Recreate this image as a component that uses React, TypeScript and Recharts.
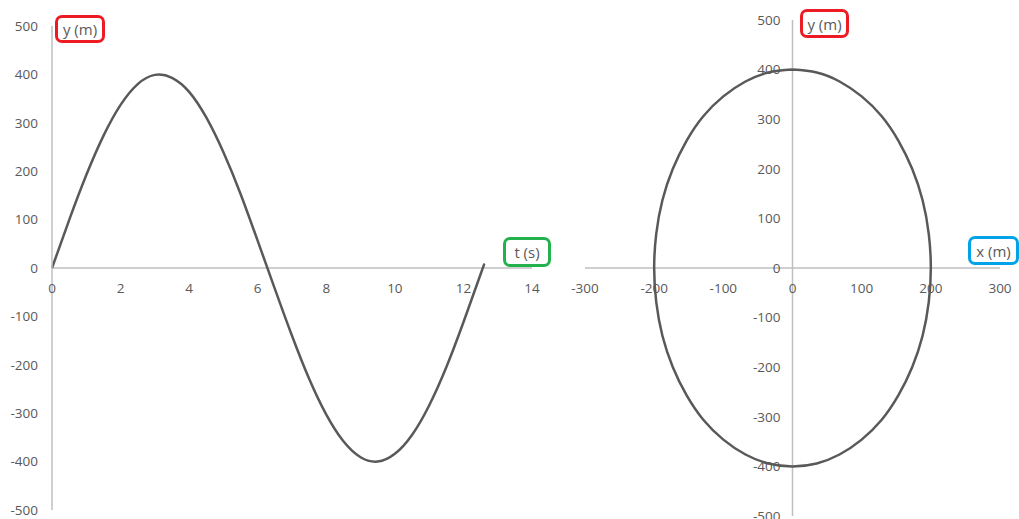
import { LineChart, Line, XAxis, YAxis, ReferenceLine, ReferenceDot } from 'recharts';

// y(t)
const tValues = [0, 0.5, 1, 1.5, 2, 2.5, 3, 3.5, 4, 4.5, 5, 5.5, 6, 6.5, 7, 7.5, 8, 8.5, 9, 9.5, 10, 10.5, 11, 11.5, 12, 12.5, 12.6];
const yOfT = [0, 99, 192, 273, 337, 380, 399, 393, 364, 311, 239, 153, 56, -43, -140, -229, -303, -358, -391, -400, -384, -345, -284, -205, -112, -13, 7];

// x/y path (closed loop, starting at the top)
const xPath = [
  0, 35, 68, 100, 129, 153, 173, 188, 197, 200, 197, 188, 173, 153, 129, 100, 68, 35,
  0, -35, -68, -100, -129, -153, -173, -188, -197, -200, -197, -188, -173, -153, -129, -100, -68, -35, 0,
];
const yPath = [
  400, 394, 376, 346, 306, 257, 200, 137, 69, 0, -69, -137, -200, -257, -306, -346, -376, -394,
  -400, -394, -376, -346, -306, -257, -200, -137, -69, 0, 69, 137, 200, 257, 306, 346, 376, 394, 400,
];

const tTicks = [0, 2, 4, 6, 8, 10, 12, 14];
const yTicks = [500, 400, 300, 200, 100, 0, -100, -200, -300, -400, -500];
const xTicks = [-300, -200, -100, 0, 100, 200, 300];

const sineData = tValues.map((t, i) => ({ t, y: yOfT[i] }));
const loopData = xPath.map((x, i) => ({ x, y: yPath[i] }));

const FONT = '"Open Sans", sans-serif';
const TEXT = '#595959';
const AXIS = '#bfbfbf';
const LINE = '#595959';

const tickLabel = (value: number, position: 'bottom' | 'left') => ({
  value,
  position,
  offset: position === 'bottom' ? 15 : 12,
  fill: TEXT,
  fontSize: 13.5,
  fontFamily: FONT,
});

function Tag({ text, color, left, top, width, height }: { text: string; color: string; left: number; top: number; width: number; height: number }) {
  return (
    <div
      style={{
        position: 'absolute',
        left,
        top,
        width,
        height,
        boxSizing: 'border-box',
        border: `3px solid ${color}`,
        borderRadius: 7,
        background: '#fff',
        color: TEXT,
        fontFamily: FONT,
        fontSize: 15,
        display: 'flex',
        alignItems: 'center',
        justifyContent: 'center',
      }}
    >
      {text}
    </div>
  );
}

export default function App() {
  return (
    <div style={{ position: 'absolute', left: 0, top: 0, width: 1019, height: 519, background: '#fff', overflow: 'hidden' }}>
      <div style={{ position: 'absolute', left: 0, top: 0 }}>
        <LineChart width={560} height={519} data={sineData} margin={{ top: 26, right: 28, bottom: 9, left: 0 }}>
          <XAxis dataKey="t" type="number" domain={[0, 14]} ticks={tTicks} hide />
          <YAxis
            type="number"
            domain={[-500, 500]}
            ticks={yTicks}
            width={52}
            axisLine={{ stroke: AXIS, strokeWidth: 1.5 }}
            tickLine={false}
            tickMargin={8}
            tick={{ fill: TEXT, fontSize: 13.5, fontFamily: FONT }}
          />
          <ReferenceLine y={0} stroke={AXIS} strokeWidth={1.5} />
          {tTicks.map((t) => (
            <ReferenceDot key={t} x={t} y={0} r={0} stroke="none" fill="none" label={tickLabel(t, 'bottom')} />
          ))}
          <Line dataKey="y" type="natural" stroke={LINE} strokeWidth={2.5} dot={false} isAnimationActive={false} />
        </LineChart>
      </div>
      <div style={{ position: 'absolute', left: 560, top: 0 }}>
        <LineChart width={459} height={519} data={loopData} margin={{ top: 20, right: 19, bottom: 3, left: 25 }}>
          <XAxis dataKey="x" type="number" domain={[-300, 300]} ticks={xTicks} hide />
          <YAxis type="number" domain={[-500, 500]} ticks={yTicks} hide />
          <ReferenceLine y={0} stroke={AXIS} strokeWidth={1.5} />
          <ReferenceLine x={0} stroke={AXIS} strokeWidth={1.5} />
          {xTicks.map((x) => (
            <ReferenceDot key={`x${x}`} x={x} y={0} r={0} stroke="none" fill="none" label={tickLabel(x, 'bottom')} />
          ))}
          {yTicks.map((y) => (
            <ReferenceDot key={`y${y}`} x={0} y={y} r={0} stroke="none" fill="none" label={tickLabel(y, 'left')} />
          ))}
          <Line dataKey="y" type="natural" stroke={LINE} strokeWidth={2.5} dot={false} isAnimationActive={false} />
        </LineChart>
      </div>
      <Tag text="y (m)" color="#ed1c24" left={55} top={15} width={50} height={28} />
      <Tag text="t (s)" color="#22b14c" left={503} top={237} width={48} height={30} />
      <Tag text="y (m)" color="#ed1c24" left={800} top={9} width={49} height={29} />
      <Tag text="x (m)" color="#00a2e8" left={968} top={236} width={51} height={29} />
    </div>
  );
}
